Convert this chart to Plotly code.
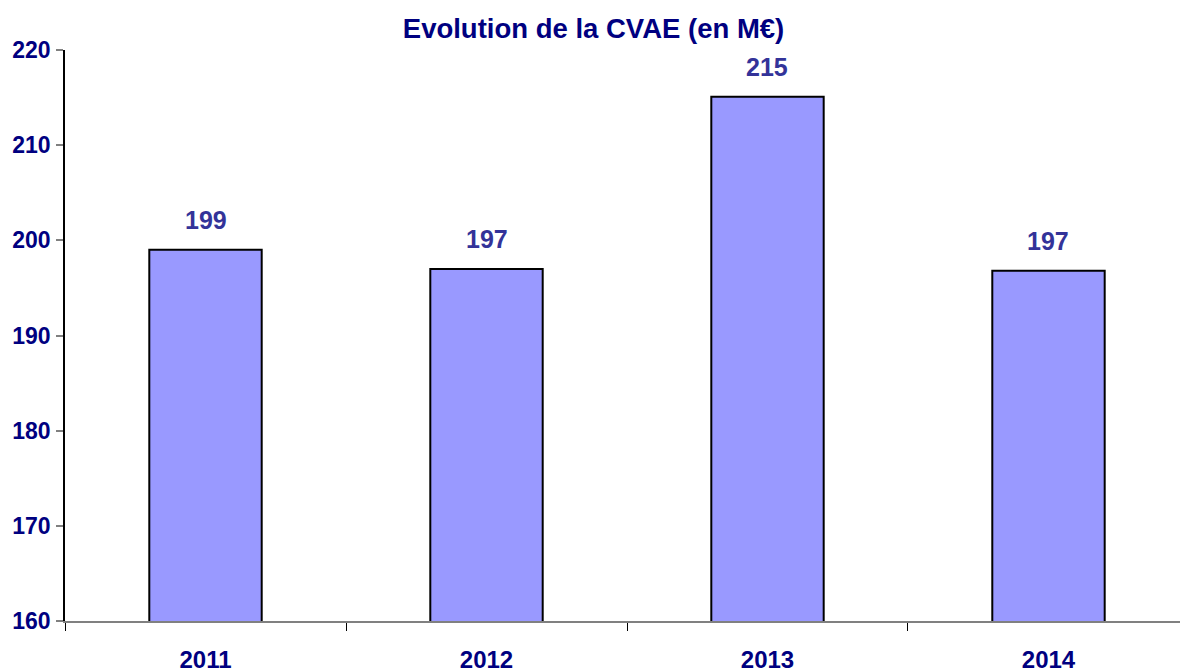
import plotly.graph_objects as go

years = ["2011", "2012", "2013", "2014"]
cvae = [199.0, 197.0, 215.1, 196.8]
labels = ["199", "197", "215", "197"]
y_ticks = [160, 170, 180, 190, 200, 210, 220]

navy = "#000080"
label_blue = "#333399"

fig = go.Figure()
fig.add_trace(go.Bar(
    x=years, y=cvae, base=0, width=0.4,
    marker=dict(color="#9999FF", line=dict(color="black", width=2)),
    hoverinfo="x+y",
))

# value labels above the bars (x given as category index)
for i, (v, t) in enumerate(zip(cvae, labels)):
    fig.add_annotation(x=i, y=v, xref="x", yref="y", text="<b>" + t + "</b>", showarrow=False,
                       yanchor="bottom", yshift=14,
                       font=dict(family="Liberation Sans, Arial", size=25, color=label_blue))

fig.update_layout(
    width=1180, height=672,
    margin=dict(l=65, r=0, t=50, b=51, autoexpand=False),
    paper_bgcolor="white", plot_bgcolor="white",
    showlegend=False,
    title=dict(text="<b>Evolution de la CVAE (en M€)</b>", x=0.503, xanchor="center", y=0.958, yanchor="middle",
               font=dict(family="Liberation Sans, Arial", size=27.5, color=navy)),
    font=dict(family="Liberation Sans, Arial"),
)
fig.update_xaxes(
    type="category", range=[-0.5, 3.468], tickson="boundaries", automargin=False,
    ticks="outside", ticklen=8, tickcolor="black", tickwidth=1,
    showline=True, linecolor="#808080", linewidth=2, showgrid=False,
    tickfont=dict(size=24, color=navy, weight="bold"), ticklabelstandoff=16,
)
fig.update_yaxes(
    range=[160, 220], tickvals=y_ticks, automargin=False,
    ticks="outside", ticklen=7, tickcolor="#808080", tickwidth=2,
    showline=True, linecolor="black", linewidth=1.5, showgrid=False, zeroline=False,
    tickfont=dict(size=23, color=navy, weight="bold"), ticklabelstandoff=1,
)

fig.write_html("out.html", config={"displayModeBar": False},
               post_script="document.body.style.margin='0';")
